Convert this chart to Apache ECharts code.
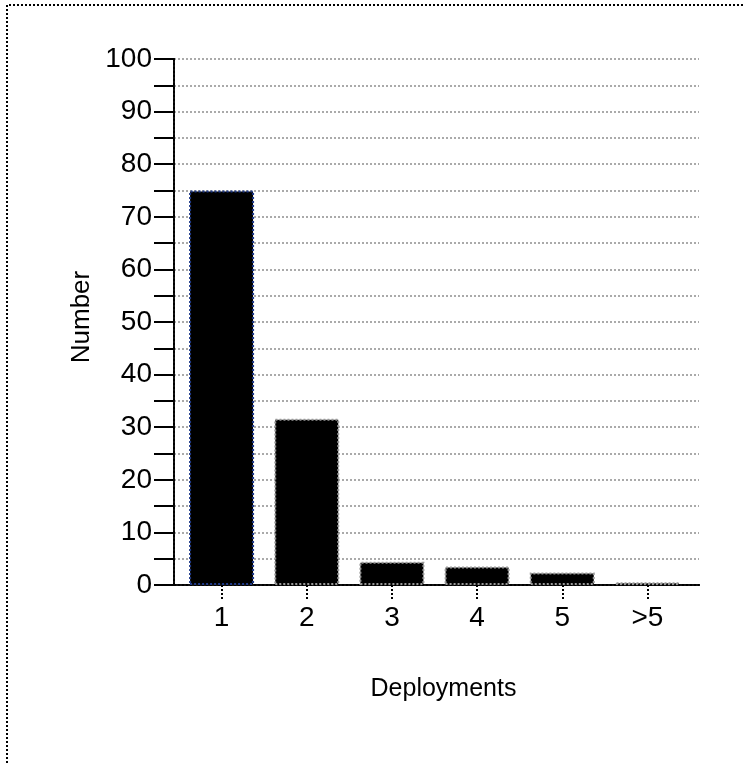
<!DOCTYPE html>
<html>
<head>
<meta charset="utf-8">
<script src="https://cdn.jsdelivr.net/npm/echarts@6/dist/echarts.min.js"></script>
<style>html,body{margin:0;padding:0;background:#fff}#c{width:745px;height:765px}</style>
</head>
<body>
<div id="c"></div>
<script>
const categories = ['1', '2', '3', '4', '5', '>5'];
const values = [75, 31.6, 4.4, 3.5, 2.4, 0.5];
const yTicks = [0, 10, 20, 30, 40, 50, 60, 70, 80, 90, 100];
const xTitle = 'Deployments';
const yTitle = 'Number';

const FONT = 'Liberation Sans, Arial, sans-serif';
const dotted = { type: [2, 2], color: '#000', width: 2 };
const grayDotted = { type: [2, 2], color: '#aaa', width: 2 };

const chart = echarts.init(document.getElementById('c'), null, { renderer: 'canvas' });
chart.setOption({
  animation: false,
  backgroundColor: '#fff',
  grid: [
    { left: 174, top: 59, width: 525, height: 526 },
    { left: 179, top: 59, width: 511, height: 526 }
  ],
  xAxis: [
    { gridIndex: 0, type: 'value', position: 'bottom', min: 0, max: 1,
      axisLine: { show: true, lineStyle: dotted }, axisTick: { show: false },
      axisLabel: { show: false }, splitLine: { show: false } },
    { gridIndex: 0, type: 'value', position: 'top', min: 0, max: 1,
      axisLine: { show: true, lineStyle: dotted }, axisTick: { show: false },
      axisLabel: { show: false }, splitLine: { show: false } },
    { gridIndex: 1, type: 'category', data: categories, position: 'bottom',
      axisLine: { show: false },
      axisTick: { show: true, alignWithLabel: true, length: 14, lineStyle: dotted },
      axisLabel: { fontSize: 28, fontFamily: FONT, color: '#000', margin: 19 },
      name: xTitle, nameLocation: 'middle', nameGap: 92,
      nameTextStyle: { fontSize: 25, fontFamily: FONT, color: '#000', padding: [0, 0, 0, 18] } }
  ],
  yAxis: [
    { gridIndex: 0, type: 'value', min: 0, max: 100, interval: 10,
      axisLine: { show: true, lineStyle: dotted },
      axisTick: { show: true, inside: false, length: 20, lineStyle: { color: '#000', width: 2 } },
      minorTick: { show: true, splitNumber: 2, length: 20, lineStyle: { color: '#000', width: 2 } },
      splitLine: { show: true, lineStyle: grayDotted },
      minorSplitLine: { show: true, lineStyle: grayDotted },
      axisLabel: { fontSize: 28, fontFamily: FONT, color: '#000', margin: 22,
        formatter: v => yTicks.includes(v) ? String(v) : '' },
      name: yTitle, nameLocation: 'middle', nameGap: 76, nameRotate: 90,
      nameTextStyle: { fontSize: 26, fontFamily: FONT, color: '#000', padding: [0, 0, 0, 10] } },
    { gridIndex: 0, type: 'value', position: 'right', min: 0, max: 100,
      axisLine: { show: true, lineStyle: dotted }, axisTick: { show: false },
      axisLabel: { show: false }, splitLine: { show: false } },
    { gridIndex: 1, type: 'value', min: 0, max: 100, show: false }
  ],
  series: [{
    type: 'bar', xAxisIndex: 2, yAxisIndex: 2, barWidth: 65,
    data: values.map((v, i) => ({
      value: v,
      itemStyle: { color: '#000', borderColor: i === 0 ? '#1f3a8a' : '#999', borderWidth: 2, borderType: [2, 2] }
    }))
  }],
  graphic: [
    { type: 'polyline', shape: { points: [[7, 763], [7, 5], [745, 5]] },
      style: { stroke: '#000', lineWidth: 2, lineDash: [2, 2], fill: null } }
  ]
});
</script>
</body>
</html>
